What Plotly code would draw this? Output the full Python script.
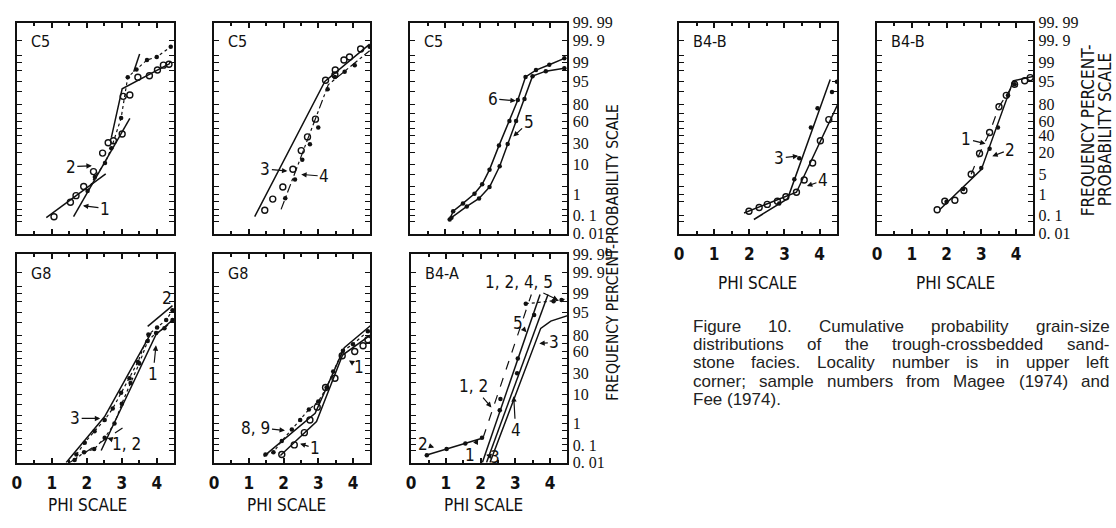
import plotly.graph_objects as go
from statistics import NormalDist

_nd = NormalDist()


def zq(p):
    return [_nd.inv_cdf(v / 100.0) for v in p]


# ---------------- tick labels ----------------
phi_ticks = [0, 1, 2, 3, 4]
phi_labels = ["0", "1", "2", "3", "4"]
pct_ticks_a = [0.01, 0.05, 0.1, 0.2, 0.5, 1, 2, 5, 10, 20, 30, 40, 50, 60, 70, 80, 90, 95, 98, 99, 99.5, 99.9, 99.99]
pct_label_a = {0.01: "0. 01", 0.1: "0. 1", 1: "1", 10: "10", 30: "30", 60: "60", 80: "80",
               95: "95", 99: "99", 99.9: "99. 9", 99.99: "99. 99"}
pct_ticks_b = [0.01, 0.05, 0.1, 0.5, 1, 2, 5, 10, 20, 30, 40, 50, 60, 70, 80, 90, 95, 98, 99, 99.5, 99.9, 99.99]
pct_label_b = {0.01: "0. 01", 0.1: "0. 1", 1: "1", 5: "5", 20: "20", 40: "40", 60: "60", 80: "80",
               95: "95", 99: "99", 99.9: "99. 9", 99.99: "99. 99"}

# ---------------- panel 1: C5 (samples 1, 2) ----------------
c5a_open_phi = [1.06, 1.53, 1.69, 1.91, 2.19, 2.45, 2.61, 2.76, 3.01, 3.04, 3.23, 3.46, 3.79, 4.02, 4.19, 4.35]
c5a_open_pct = [0.09, 0.45, 0.87, 2.0, 6.3, 19, 30.5, 33, 42, 87, 88, 96.4, 96.8, 98, 98.7, 98.8]
c5a_dot_phi = [2.02, 2.23, 2.52, 2.70, 2.98, 3.17, 3.42, 3.72, 4.0, 4.4]
c5a_dot_pct = [1.35, 4.3, 11, 24, 64, 96.4, 98.1, 99.2, 99.4, 99.8]
c5a_l1_phi = [0.84, 2.54]
c5a_l1_pct = [0.08, 5.4]
c5a_l2_phi = [1.62, 3.23]
c5a_l2_pct = [0.09, 63.7]
c5a_l3_phi = [2.70, 3.01, 4.38]
c5a_l3_pct = [37, 91.8, 98.9]
c5a_l4_phi = [3.34, 3.51]
c5a_l4_pct = [97.7, 99.56]

# ---------------- panel 2: C5 (samples 3, 4) ----------------
c5b_open_phi = [1.46, 1.69, 1.98, 2.27, 2.51, 2.69, 2.92, 3.21, 3.48, 3.49, 3.74, 3.9, 4.22]
c5b_open_pct = [0.19, 0.62, 1.9, 7.4, 21.5, 38, 62.6, 95.5, 97, 98, 99.2, 99.4, 99.74]
c5b_dot_phi = [2.05, 2.33, 2.54, 2.76, 3.0, 3.27, 3.48, 3.76, 4.05, 4.48]
c5b_dot_pct = [0.67, 3.5, 13.4, 28.7, 51, 91.5, 96.5, 97.7, 98.7, 99.8]
c5b_l3_phi = [1.17, 3.19, 4.48]
c5b_l3_pct = [0.09, 95.1, 99.85]
c5b_l4_phi = [1.93, 3.29, 4.48]
c5b_l4_pct = [0.21, 93.8, 99.69]

# ---------------- panel 3: C5 (samples 5, 6) ----------------
c5c_s6_phi = [1.13, 1.23, 1.51, 1.84, 2.06, 2.27, 2.54, 2.84, 3.08, 3.30, 3.60, 3.98, 4.41]
c5c_s6_pct = [0.064, 0.17, 0.40, 1.04, 2.4, 7.2, 27, 60, 84, 96.5, 98, 98.75, 99.32]
c5c_s5_phi = [1.18, 1.62, 1.97, 2.27, 2.56, 2.79, 3.03, 3.27, 3.50, 3.88, 4.41]
c5c_s5_pct = [0.08, 0.29, 0.66, 1.9, 9, 29, 60, 85, 96.7, 97.8, 98.3]

# ---------------- panel 4: G8 (samples 1, 2, 3) ----------------
g8a_s3_phi = [1.70, 1.94, 2.22, 2.51, 2.74, 2.98, 3.22, 3.46, 3.76, 4.01, 4.27, 4.45]
g8a_s3_pct = [0.03, 0.13, 0.47, 1.4, 3.7, 11, 24, 45, 80.5, 86.7, 91.6, 95.8]
g8a_s12_phi = [1.65, 1.92, 2.21, 2.51, 2.79, 3.0, 3.25, 3.50, 3.74, 3.98, 4.22, 4.45]
g8a_s12_pct = [0.014, 0.04, 0.06, 0.23, 1.0, 5.3, 19, 43, 73.5, 82, 86, 91.6]
g8a_l3_phi = [1.41, 2.51, 3.84]
g8a_l3_pct = [0.01, 1.9, 82]
g8a_l2_phi = [3.74, 4.45]
g8a_l2_pct = [87.5, 97.1]
g8a_l12_phi = [1.51, 3.22]
g8a_l12_pct = [0.01, 1.0]
g8a_l1_phi = [2.41, 3.98, 4.45]
g8a_l1_pct = [0.05, 80.5, 91.6]

# ---------------- panel 5: G8 (samples 1, 8, 9) ----------------
g8b_s89_phi = [1.48, 1.71, 1.95, 2.24, 2.48, 2.73, 3.0, 3.24, 3.43, 3.71, 4.0, 4.43]
g8b_s89_pct = [0.03, 0.04, 0.16, 0.55, 1.4, 3.4, 6.2, 15, 32, 61, 69.5, 83.6]
g8b_s1_phi = [1.95, 2.31, 2.60, 2.76, 2.97, 3.21, 3.48, 3.69, 4.05, 4.29, 4.43]
g8b_s1_pct = [0.03, 0.1, 0.4, 1.4, 4.1, 15, 24, 54, 60, 67.6, 75]
g8b_l89_phi = [1.43, 2.91, 3.75, 4.5]
g8b_l89_pct = [0.023, 2.5, 65, 88]
g8b_l1_phi = [1.91, 2.95, 3.7, 4.5]
g8b_l1_pct = [0.026, 1.2, 55, 80]

# ---------------- panel 6: B4-A (samples 1-5) ----------------
b4a_s2_phi = [0.45, 1.02, 1.56, 2.04]
b4a_s2_pct = [0.027, 0.06, 0.12, 0.23]
b4a_l2_phi = [0.40, 2.09]
b4a_l2_pct = [0.026, 0.23]
b4a_l12_phi = [2.07, 3.46]
b4a_l12_pct = [0.23, 98.9]
b4a_l5_phi = [2.05, 3.71]
b4a_l5_pct = [0.01, 98.9]
b4a_l4_phi = [2.17, 3.94]
b4a_l4_pct = [0.01, 98.9]
b4a_l3_phi = [2.27, 3.73, 4.02, 4.55]
b4a_l3_pct = [0.01, 86, 91, 94]
b4a_top_phi = [3.3, 4.1, 4.33, 4.55]
b4a_top_pct = [97.5, 98, 98.2, 98.4]
b4a_dot_phi = [2.55, 2.57, 3.05, 3.07, 3.54]
b4a_dot_pct = [3.2, 7.4, 30, 50, 94]

# ---------------- panel 7: B4-B (samples 3, 4) ----------------
b4b_s4_phi = [1.99, 2.28, 2.51, 2.80, 3.04, 3.34, 3.56, 3.80, 4.02, 4.26]
b4b_s4_pct = [0.17, 0.26, 0.36, 0.5, 0.78, 1.2, 3.4, 11, 33, 62]
b4b_s3_phi = [2.85, 3.28, 3.42, 3.75, 3.94, 4.35, 4.49]
b4b_s3_pct = [0.4, 3.6, 14.5, 51, 76, 90, 95]
b4b_l4_phi = [1.85, 3.34, 4.54]
b4b_l4_pct = [0.14, 1.2, 82]
b4b_l3_phi = [2.13, 3.09, 4.3]
b4b_l3_pct = [0.064, 0.65, 95.7]

# ---------------- panel 8: B4-B (samples 1, 2) ----------------
b4c_s1_phi = [1.73, 1.95, 2.24, 2.50, 2.71, 2.95, 3.24, 3.51, 3.72, 3.96, 4.25, 4.41]
b4c_s1_pct = [0.2, 0.5, 0.55, 1.4, 5.2, 18.7, 44, 77.6, 87.7, 94, 95.3, 96.3]
b4c_s2_phi = [2.0, 2.48, 3.0, 3.24, 3.48, 3.77, 3.96]
b4c_s2_pct = [0.48, 1.6, 8, 23.6, 51, 87.7, 94]
b4c_l2_phi = [1.80, 3.0, 3.92, 4.53]
b4c_l2_pct = [0.2, 7.2, 95.3, 96.7]
b4c_l1_phi = [2.71, 2.95, 3.24, 3.51, 3.85]
b4c_l1_pct = [5.2, 18.7, 44, 77.6, 92]

caption_lines = [
    "Figure 10. Cumulative probability grain-size",
    "distributions of the trough-crossbedded sand-",
    "stone facies. Locality number is in upper left",
    "corner; sample numbers from Magee (1974) and",
    "Fee (1974).",
]

# ---------------- layout geometry ----------------
W, H = 1116, 528
panels = [
    (12, 170, 15, 233, "C5", False, False, "a"),
    (210, 367, 15, 233, "C5", False, False, "a"),
    (407, 565, 15, 233, "C5", False, True, "a"),
    (12, 170, 254, 469, "G8", True, False, "a"),
    (210, 367, 254, 469, "G8", True, False, "a"),
    (408, 565, 254, 469, "B4-A", True, True, "a"),
    (677, 836, 15, 233, "B4-B", True, False, "b"),
    (876, 1033, 15, 233, "B4-B", True, True, "b"),
]

fig = go.Figure()
BLACK = "#111111"


def add(i, phi, pct, kind):
    ax = "" if i == 1 else str(i)
    kw = dict(x=phi, y=zq(pct), xaxis="x" + ax, yaxis="y" + ax, showlegend=False, hoverinfo="skip")
    if kind == "open":
        fig.add_trace(go.Scatter(mode="markers", marker=dict(symbol="circle-open", size=6,
                                 color=BLACK, line=dict(width=1.4, color=BLACK)), **kw))
    elif kind == "dot":
        fig.add_trace(go.Scatter(mode="markers", marker=dict(symbol="circle", size=4.5, color=BLACK), **kw))
    elif kind == "dotline":
        fig.add_trace(go.Scatter(mode="lines+markers", line=dict(color=BLACK, width=1.2, dash="dot"),
                                 marker=dict(symbol="circle", size=4.5, color=BLACK), **kw))
    elif kind == "solidmark":
        fig.add_trace(go.Scatter(mode="lines+markers", line=dict(color=BLACK, width=1.5),
                                 marker=dict(symbol="circle", size=4.5, color=BLACK), **kw))
    elif kind == "dash":
        fig.add_trace(go.Scatter(mode="lines", line=dict(color=BLACK, width=1.2, dash="dash"), **kw))
    elif kind == "dashdot":
        fig.add_trace(go.Scatter(mode="lines", line=dict(color=BLACK, width=1.2, dash="dashdot"), **kw))
    else:
        fig.add_trace(go.Scatter(mode="lines", line=dict(color=BLACK, width=1.5), **kw))


# panel 1
add(1, c5a_l1_phi, c5a_l1_pct, "solid")
add(1, c5a_l2_phi, c5a_l2_pct, "solid")
add(1, c5a_l3_phi, c5a_l3_pct, "solid")
add(1, c5a_l4_phi, c5a_l4_pct, "solid")
add(1, c5a_dot_phi, c5a_dot_pct, "dotline")
add(1, c5a_open_phi, c5a_open_pct, "open")
# panel 2
add(2, c5b_l3_phi, c5b_l3_pct, "solid")
add(2, c5b_l4_phi, c5b_l4_pct, "dashdot")
add(2, c5b_dot_phi, c5b_dot_pct, "dot")
add(2, c5b_open_phi, c5b_open_pct, "open")
# panel 3
add(3, c5c_s6_phi, c5c_s6_pct, "solidmark")
add(3, c5c_s5_phi, c5c_s5_pct, "solidmark")
# panel 4
add(4, g8a_l3_phi, g8a_l3_pct, "solid")
add(4, g8a_l2_phi, g8a_l2_pct, "solid")
add(4, g8a_l12_phi, g8a_l12_pct, "dash")
add(4, g8a_l1_phi, g8a_l1_pct, "solid")
add(4, g8a_s3_phi, g8a_s3_pct, "dotline")
add(4, g8a_s12_phi, g8a_s12_pct, "dotline")
# panel 5
add(5, g8b_l89_phi, g8b_l89_pct, "solid")
add(5, g8b_l1_phi, g8b_l1_pct, "solid")
add(5, g8b_s89_phi, g8b_s89_pct, "dotline")
add(5, g8b_s1_phi, g8b_s1_pct, "open")
# panel 6
add(6, b4a_l2_phi, b4a_l2_pct, "solid")
add(6, b4a_s2_phi, b4a_s2_pct, "dot")
add(6, b4a_l12_phi, b4a_l12_pct, "dash")
add(6, b4a_l5_phi, b4a_l5_pct, "solid")
add(6, b4a_l4_phi, b4a_l4_pct, "solid")
add(6, b4a_l3_phi, b4a_l3_pct, "solid")
add(6, b4a_top_phi, b4a_top_pct, "dotline")
add(6, b4a_dot_phi, b4a_dot_pct, "dot")
# panel 7
add(7, b4b_l4_phi, b4b_l4_pct, "solid")
add(7, b4b_l3_phi, b4b_l3_pct, "solid")
add(7, b4b_s4_phi, b4b_s4_pct, "open")
add(7, b4b_s3_phi, b4b_s3_pct, "dot")
# panel 8
add(8, b4c_l2_phi, b4c_l2_pct, "solid")
add(8, b4c_l1_phi, b4c_l1_pct, "dash")
add(8, b4c_s1_phi, b4c_s1_pct, "open")
add(8, b4c_s2_phi, b4c_s2_pct, "dot")

NUM_FONT = dict(family="Liberation Serif, DejaVu Serif, serif", size=16, color=BLACK)
SANS = "DejaVu Sans Condensed, Liberation Sans Narrow, Roboto Condensed, Liberation Sans, sans-serif"

layout = dict(width=W, height=H, margin=dict(l=0, r=0, t=0, b=0, pad=0),
              paper_bgcolor="white", plot_bgcolor="white", showlegend=False)
annotations = []
for k, (x0, x1, y0, y1, loc, showx, showy, which) in enumerate(panels, start=1):
    suf = "" if k == 1 else str(k)
    tks = pct_ticks_a if which == "a" else pct_ticks_b
    labs = pct_label_a if which == "a" else pct_label_b
    layout["xaxis" + suf] = dict(
        domain=[x0 / W, x1 / W], anchor="y" + suf, range=[0, 4.5],
        showgrid=False, zeroline=False, showline=True, linecolor=BLACK, linewidth=2,
        mirror="ticks", ticks="inside", ticklen=5, tickcolor=BLACK, tickwidth=1.5,
        tickvals=phi_ticks, ticktext=phi_labels, showticklabels=showx, ticklabelstandoff=4,
        tickfont=dict(family=SANS, size=17, color=BLACK, weight="bold"),
        minor=dict(ticks="inside", tickvals=[0.5, 1.5, 2.5, 3.5], ticklen=3, tickcolor=BLACK),
    )
    layout["yaxis" + suf] = dict(
        domain=[1 - y1 / H, 1 - y0 / H], anchor="x" + suf, range=[-3.73, 3.73],
        showgrid=False, zeroline=False, showline=True, linecolor=BLACK, linewidth=2,
        mirror="ticks", ticks="inside", ticklen=5, tickcolor=BLACK, tickwidth=1.2,
        tickvals=zq(tks), ticktext=[labs.get(v, "") for v in tks],
        showticklabels=showy, side="right", tickfont=NUM_FONT,
    )
    annotations.append(dict(xref="x" + suf, yref="paper", x=0.35, y=1 - (y0 + 20) / H,
                            text=loc, showarrow=False, xanchor="left", yanchor="middle",
                            font=dict(family=SANS, size=16, color=BLACK)))

# numbered sample labels with arrows: (panel, text, phi target, pct target, ax, ay)
labels = [
    (1, "2", 2.17, 9.3, -22, 1), (1, "1", 1.86, 0.32, 23, 3),
    (2, "3", 2.14, 6.5, -23, -2), (2, "4", 2.48, 5.2, 24, 2),
    (3, "6", 3.05, 83.3, -24, -2), (3, "5", 2.93, 37.5, 16, -15),
    (4, "2", 4.45, 95.8, -5, -12), (4, "1", 3.98, 69.5, -3, 30),
    (4, "3", 2.41, 1.6, -26, 0), (4, "1, 2", 2.56, 0.23, 20, 6),
    (5, "1", 3.86, 48, 11, 7), (5, "8, 9", 2.07, 0.5, -30, -3), (5, "1", 2.45, 0.12, 16, 5),
    (6, "1, 2, 4, 5", 4.26, 98.1, -40, -19), (6, "5", 3.34, 82, -9, -10),
    (6, "3", 3.66, 70.5, 16, -1), (6, "1, 2", 2.33, 3.8, -19, -22),
    (6, "4", 2.95, 9.5, 2, 35), (6, "2", 0.69, 0.07, -12, -4),
    (6, "1", 1.94, 0.22, -9, 17), (6, "3", 2.13, 0.03, 10, 3),
    (7, "3", 3.42, 16.4, -20, 2), (7, "4", 3.61, 2.0, 17, -6),
    (8, "1", 3.15, 29, -20, -5), (8, "2", 3.29, 15.9, 19, -7),
]
for (k, txt, px, pp, axp, ayp) in labels:
    suf = "" if k == 1 else str(k)
    annotations.append(dict(xref="x" + suf, yref="y" + suf, x=px, y=zq([pp])[0], ax=axp, ay=ayp,
                            text=txt, showarrow=True, arrowhead=2, arrowsize=0.9, arrowwidth=1.2,
                            arrowcolor=BLACK, standoff=1,
                            font=dict(family=SANS, size=17, color=BLACK)))

# axis titles
for xc in (83, 283, 481):
    annotations.append(dict(xref="paper", yref="paper", x=xc / W, y=1 - 513 / H, text="PHI SCALE",
                            showarrow=False, xanchor="center", yanchor="middle",
                            font=dict(family=SANS, size=17, color=BLACK)))
for xc in (756, 955):
    annotations.append(dict(xref="paper", yref="paper", x=xc / W, y=1 - 284 / H, text="PHI SCALE",
                            showarrow=False, xanchor="center", yanchor="middle",
                            font=dict(family=SANS, size=17, color=BLACK)))
annotations.append(dict(xref="paper", yref="paper", x=611 / W, y=1 - 252 / H,
                        text="FREQUENCY PERCENT-PROBABILITY SCALE", textangle=-90, showarrow=False,
                        xanchor="center", yanchor="middle",
                        font=dict(family=SANS, size=15.5, color=BLACK)))
for xc, txt in ((1088, "FREQUENCY PERCENT-"), (1105, "PROBABILITY SCALE")):
    annotations.append(dict(xref="paper", yref="paper", x=xc / W, y=1 - 126 / H,
                            text=txt, textangle=-90, showarrow=False, borderpad=0,
                            xanchor="center", yanchor="middle",
                            font=dict(family=SANS, size=17, color=BLACK)))

# caption, justified word by word (Arial/Liberation Sans advance widths, per 1000 em)
CW = {" ": 278, ".": 278, ",": 278, ";": 278, "-": 333, "(": 333, ")": 333,
      "a": 556, "b": 556, "c": 500, "d": 556, "e": 556, "f": 278, "g": 556, "h": 556, "i": 222,
      "j": 222, "k": 500, "l": 222, "m": 833, "n": 556, "o": 556, "p": 556, "q": 556, "r": 333,
      "s": 500, "t": 278, "u": 556, "v": 500, "w": 722, "x": 500, "y": 500, "z": 500,
      "F": 611, "C": 722, "L": 556, "M": 833}
CAP_SIZE = 17
CAP_X0, CAP_X1 = 690, 1108


def tw(s):
    return sum(CW.get(c, 556) for c in s) * CAP_SIZE / 1000.0


for j, line in enumerate(caption_lines):
    yv = 1 - (328 + 19 * j) / H
    words = line.split(" ")
    last = j == len(caption_lines) - 1
    if last or len(words) < 2:
        gap = tw(" ")
    else:
        gap = (CAP_X1 - CAP_X0 - sum(tw(w) for w in words)) / (len(words) - 1)
    xpos = CAP_X0
    for w in words:
        annotations.append(dict(xref="paper", yref="paper", x=xpos / W, y=yv, text=w,
                                showarrow=False, xanchor="left", yanchor="middle", borderpad=0,
                                font=dict(family="Liberation Sans, Arial, sans-serif", size=CAP_SIZE,
                                          color="#222222")))
        xpos += tw(w) + gap

layout["annotations"] = annotations
fig.update_layout(**layout)
fig.write_html("out.html", config={"displayModeBar": False},
               post_script="document.body.style.margin='0';document.body.style.padding='0';")
